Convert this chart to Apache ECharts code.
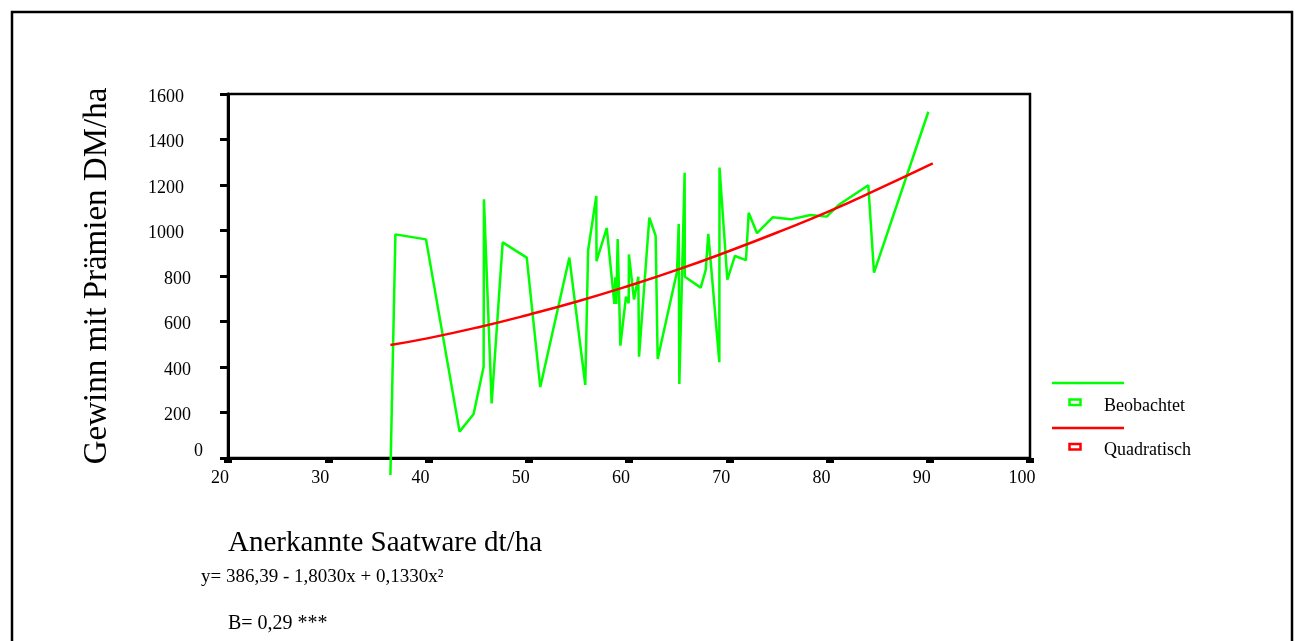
<!DOCTYPE html>
<html><head><meta charset="utf-8">
<script src="https://cdn.jsdelivr.net/npm/echarts@6/dist/echarts.min.js"></script>
<style>html,body{margin:0;padding:0;background:#fff}#c{width:1304px;height:641px}</style>
</head><body><div id="c"></div>
<script>
// Observed values (Beobachtet), in drawing order
const observedX = [36.2, 36.7, 39.75, 43.1, 44.5, 45.5, 45.53, 46.3, 47.4, 49.8,
  51.15, 54.05, 55.64, 55.92, 56.74, 56.76, 57.78, 58.54, 58.64, 58.74,
  58.87, 59.14, 59.7, 59.97, 59.99, 60.5, 60.93, 61.0, 62.03, 62.66,
  62.86, 64.79, 64.96, 65.02, 65.55, 65.57, 67.15, 67.65, 67.91, 69.01,
  69.03, 69.81, 70.57, 71.67, 71.94, 72.77, 74.33, 76.13, 78.1, 79.72,
  80.9, 83.87, 84.44, 89.86];
const observedY = [-75, 983, 961, 116, 193, 401, 1137, 240, 948, 881,
  312, 881, 321, 912, 1152, 865, 1011, 677, 794, 677,
  963, 494, 709, 680, 895, 697, 797, 445, 1057, 976,
  435, 819, 1029, 325, 1254, 797, 749, 826, 985, 421,
  1277, 784, 888, 870, 1078, 988, 1058, 1049, 1068, 1061,
  1112, 1199, 815, 1522];
// Fitted curve (Quadratisch)
const fitX = [36.2, 40, 45, 50, 55, 60, 65, 70, 75, 80, 85, 90.3];
const fitY = [497, 527, 575, 630, 690, 757, 830, 910, 995, 1085, 1185, 1295];
const xMin = 20, xMax = 100, xStep = 10;
const yMin = 0, yMax = 1600, yStep = 200;

const FONT = "'Liberation Serif', 'Times New Roman', serif";
const zip = (a, b) => a.map((v, i) => [v, b[i]]);

const chart = echarts.init(document.getElementById('c'), null, {renderer: 'canvas'});
chart.setOption({
  animation: false,
  backgroundColor: '#fff',
  grid: {left: 228, top: 94, width: 802, height: 364, show: true, borderColor: '#000', borderWidth: 2.5, containLabel: false},
  xAxis: {
    type: 'value', min: xMin, max: xMax, interval: xStep,
    axisLine: {show: true, lineStyle: {color: '#000', width: 3}},
    axisTick: {show: true, length: 5, lineStyle: {color: '#000', width: 8}},
    splitLine: {show: false},
    axisLabel: {color: '#000', fontFamily: FONT, fontSize: 18, margin: 11, padding: [0, 16, 0, 0]}
  },
  yAxis: {
    type: 'value', min: yMin, max: yMax, interval: yStep,
    axisLine: {show: true, lineStyle: {color: '#000', width: 3}},
    axisTick: {show: true, length: 8, lineStyle: {color: '#000', width: 3}},
    splitLine: {show: false},
    axisLabel: {
      color: '#000', fontFamily: FONT, fontSize: 18, margin: 25, align: 'right',
      formatter: function (v) {
        const s = String(v);
        const k = s.length === 1 ? 'd1' : (s.length === 3 ? 'd3' : 'd4');
        return '{' + k + '|' + s + '}';
      },
      rich: {
        d1: {fontFamily: FONT, fontSize: 18, color: '#000', padding: [0, 0, 14, 0]},
        d3: {fontFamily: FONT, fontSize: 18, color: '#000', padding: [6, 12, 0, 0]},
        d4: {fontFamily: FONT, fontSize: 18, color: '#000', padding: [6, 19, 0, 0]}
      }
    }
  },
  series: [
    {name: 'Beobachtet', type: 'line', data: zip(observedX, observedY), symbol: 'none', clip: false,
     lineStyle: {color: '#00ff00', width: 2.5}, z: 2},
    {name: 'Quadratisch', type: 'line', data: zip(fitX, fitY), symbol: 'none', smooth: true, clip: false,
     lineStyle: {color: '#ff0000', width: 2.5}, z: 3}
  ],
  graphic: [
    {type: 'rect', shape: {x: 12, y: 12, width: 1280, height: 660}, style: {fill: 'none', stroke: '#000', lineWidth: 2.5}, silent: true},
    {type: 'text', x: 97, y: 276, rotation: Math.PI / 2,
     style: {text: 'Gewinn mit Prämien DM/ha', font: "33px " + FONT, fill: '#000', align: 'center', verticalAlign: 'middle'}},
    {type: 'text', x: 228, y: 543,
     style: {text: 'Anerkannte Saatware dt/ha', font: "29px " + FONT, fill: '#000', align: 'left', verticalAlign: 'middle'}},
    {type: 'text', x: 201, y: 577,
     style: {text: 'y= 386,39 - 1,8030x + 0,1330x²', font: "19px " + FONT, fill: '#000', align: 'left', verticalAlign: 'middle'}},
    {type: 'text', x: 228, y: 624,
     style: {text: 'B= 0,29 ***', font: "20px " + FONT, fill: '#000', align: 'left', verticalAlign: 'middle'}},
    // legend
    {type: 'line', shape: {x1: 1052, y1: 383, x2: 1124, y2: 383}, style: {stroke: '#00ff00', lineWidth: 2.5}},
    {type: 'rect', shape: {x: 1069.5, y: 399.5, width: 11, height: 5.5}, style: {fill: '#fff', stroke: '#00ff00', lineWidth: 2.5}},
    {type: 'text', x: 1104, y: 406, style: {text: 'Beobachtet', font: "18px " + FONT, fill: '#000', align: 'left', verticalAlign: 'middle'}},
    {type: 'line', shape: {x1: 1052, y1: 428, x2: 1124, y2: 428}, style: {stroke: '#ff0000', lineWidth: 2.5}},
    {type: 'rect', shape: {x: 1069.5, y: 444, width: 11, height: 5.5}, style: {fill: '#fff', stroke: '#ff0000', lineWidth: 2.5}},
    {type: 'text', x: 1104, y: 450, style: {text: 'Quadratisch', font: "18px " + FONT, fill: '#000', align: 'left', verticalAlign: 'middle'}}
  ]
});
</script></body></html>
